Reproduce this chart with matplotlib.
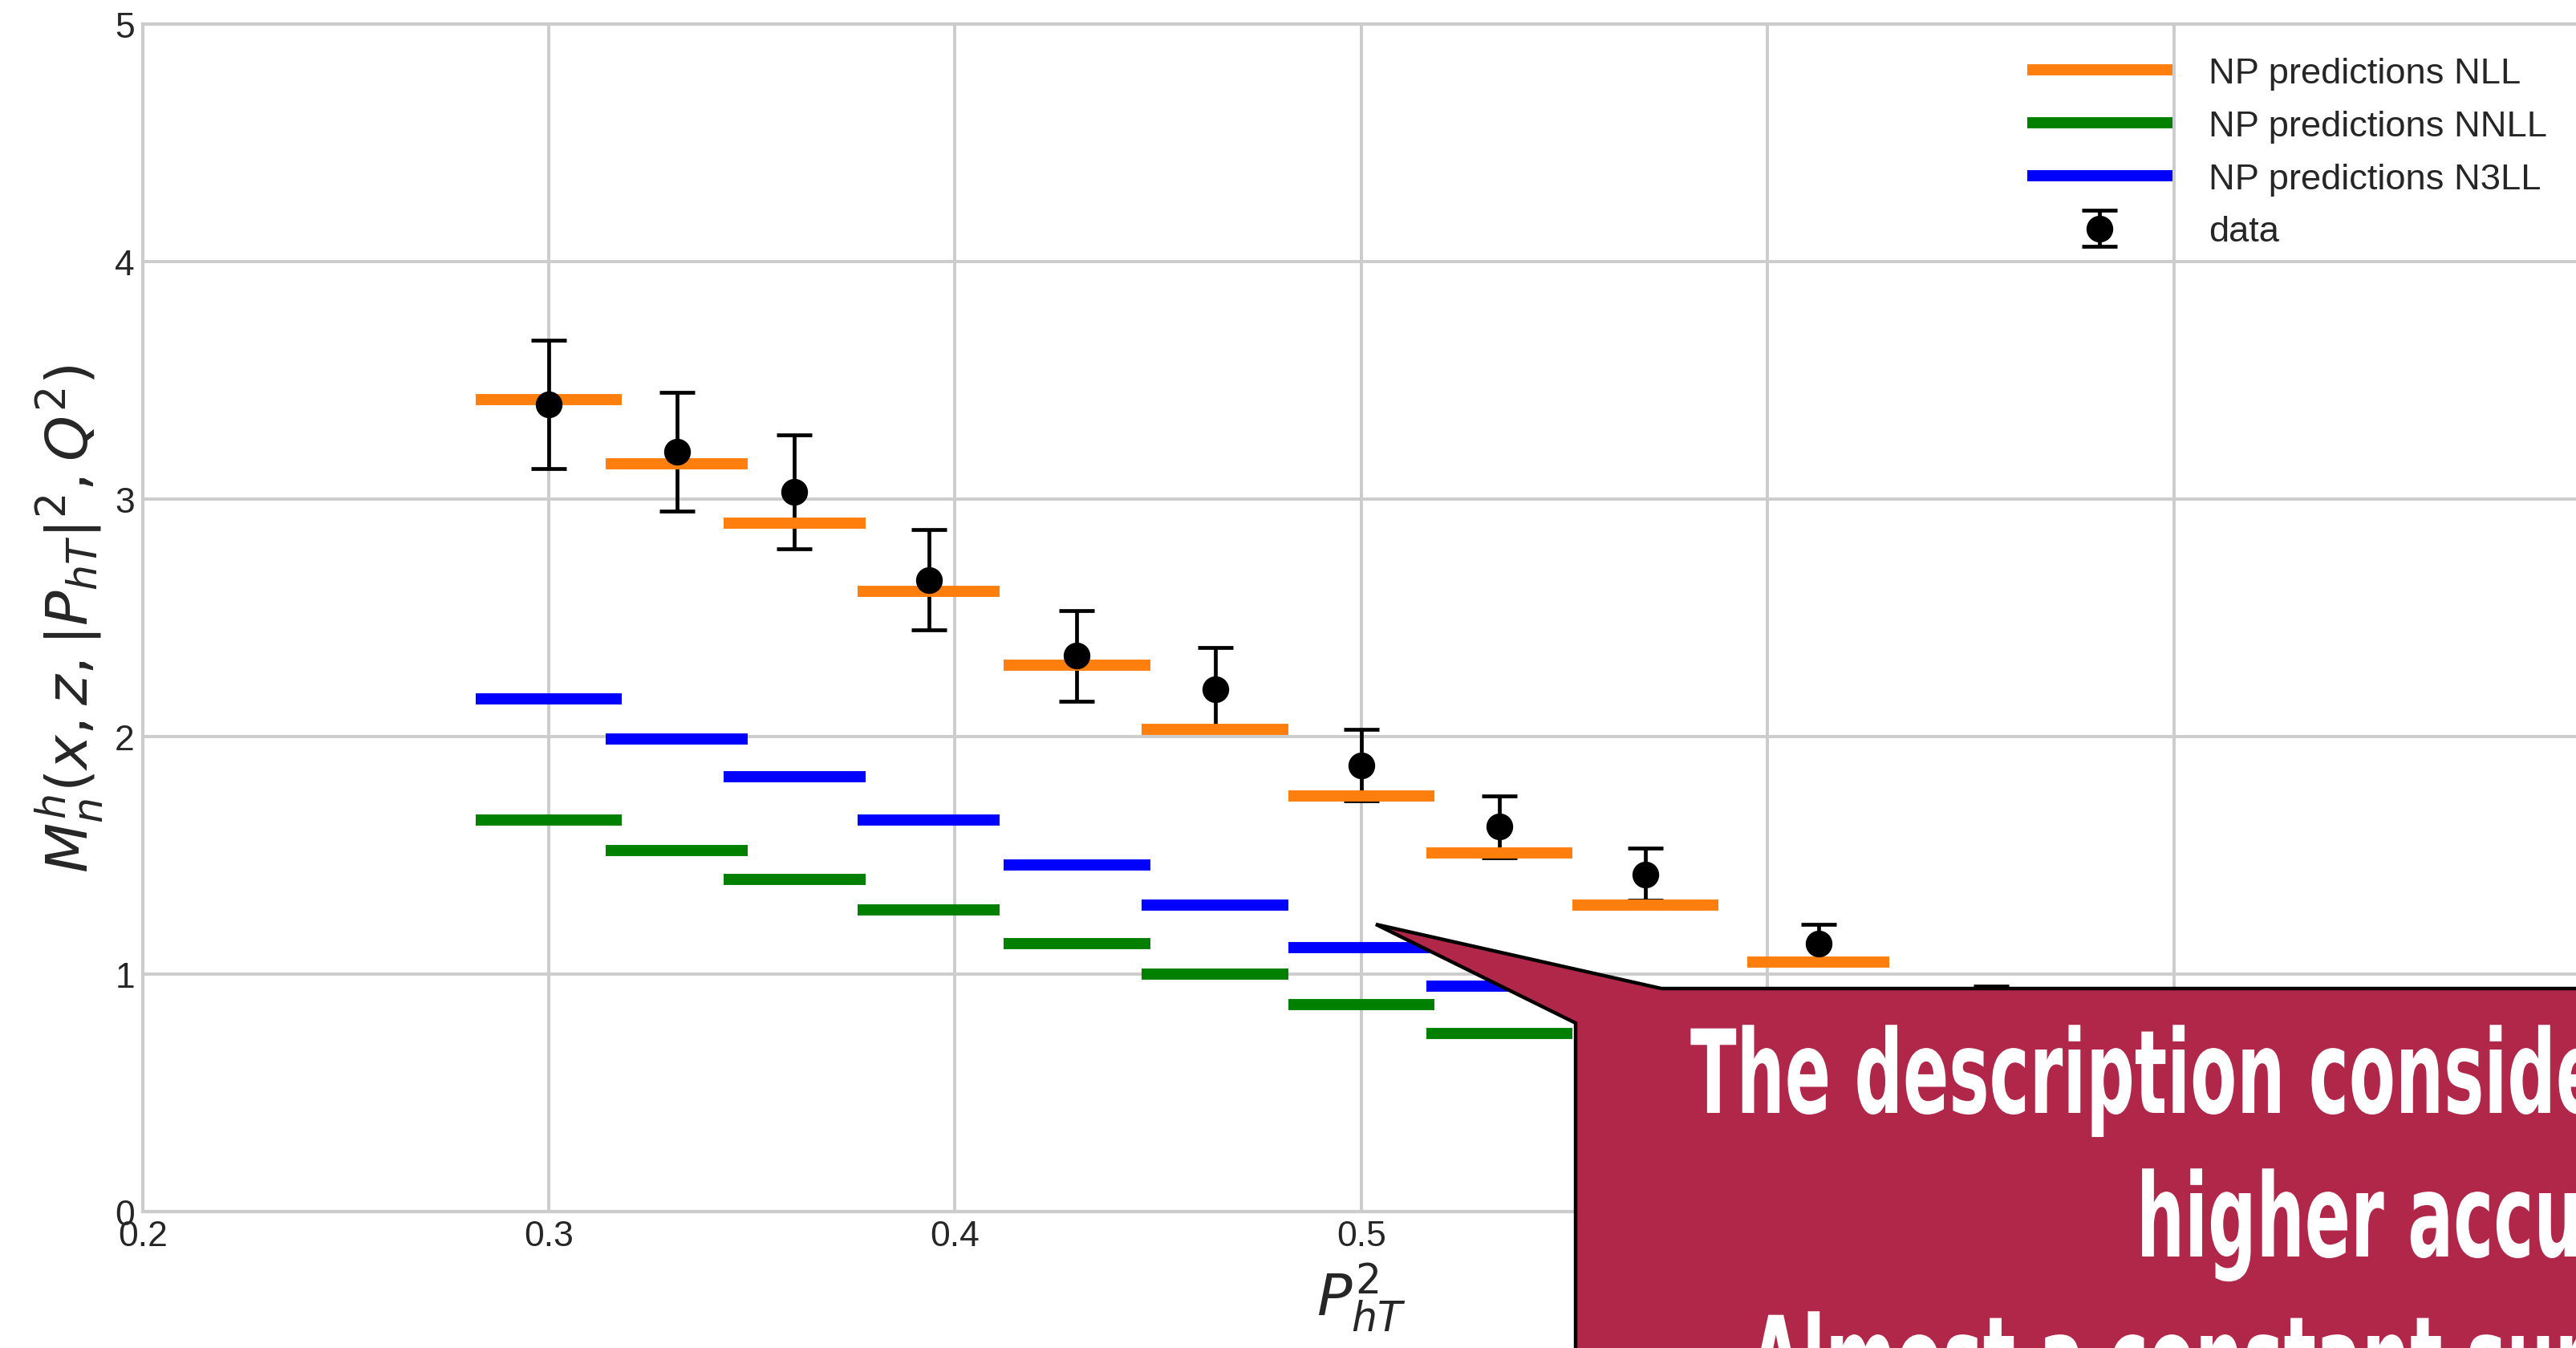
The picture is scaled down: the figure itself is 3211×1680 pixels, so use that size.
import matplotlib
matplotlib.use("Agg")
import matplotlib.pyplot as plt
from matplotlib.patches import Polygon
from matplotlib.patheffects import AbstractPathEffect
from matplotlib.transforms import Affine2D

# bins in P_hT^2 (left / right edges of each prediction segment)
bin_lo = [0.282, 0.314, 0.343, 0.376, 0.412, 0.446, 0.482, 0.516, 0.552, 0.595]
bin_hi = [0.318, 0.349, 0.378, 0.411, 0.448, 0.482, 0.518, 0.552, 0.588, 0.630]

nll = [3.42, 3.15, 2.90, 2.61, 2.30, 2.03, 1.75, 1.51, 1.29, 1.05]
n3ll = [2.16, 1.99, 1.83, 1.65, 1.46, 1.29, 1.11, 0.95]
nnll = [1.65, 1.52, 1.40, 1.27, 1.13, 1.00, 0.87, 0.75]

data_x = [0.300, 0.3315, 0.3605, 0.3935, 0.430, 0.464, 0.500, 0.534, 0.570, 0.6125, 0.655]
data_y = [3.40, 3.20, 3.03, 2.66, 2.34, 2.20, 1.88, 1.62, 1.42, 1.13, 0.88]
data_err = [0.27, 0.25, 0.24, 0.21, 0.19, 0.175, 0.15, 0.13, 0.11, 0.08, 0.07]

x_ticks = [0.2, 0.3, 0.4, 0.5, 0.6, 0.7, 0.8]
y_ticks = [0, 1, 2, 3, 4, 5]

callout_lines = ["The description considering",
                 "higher accuracy orders",
                 "Almost a constant surplus"]

W, H = 3211, 1681


class Squeeze(AbstractPathEffect):
    # squeeze text horizontally around its left anchor (condensed look)
    def __init__(self, sx):
        super().__init__()
        self.sx = sx

    def draw_path(self, renderer, gc, tpath, affine, rgbFace=None):
        x0 = affine.get_matrix()[0, 2]
        sq = Affine2D().translate(-x0, 0).scale(self.sx, 1).translate(x0, 0)
        renderer.draw_path(gc, tpath, affine + sq, rgbFace)


def fx(px):
    return px / W


def fy(py):
    return 1 - py / H


plt.rcParams.update({
    "font.family": ["Liberation Sans", "DejaVu Sans"],
    "font.size": 16,
    "axes.edgecolor": "0.8",
    "axes.linewidth": 1.5,
    "grid.color": "0.8",
    "grid.linewidth": 1.4,
    "xtick.major.size": 0,
    "ytick.major.size": 0,
    "xtick.color": "0.15",
    "ytick.color": "0.15",
    "axes.labelcolor": "0.15",
    "text.color": "0.15",
})

fig = plt.figure(figsize=(W / 200, H / 200), dpi=200)
ax = fig.add_axes([fx(177.7), 170 / H, (3216 - 177.7) / W, 1480 / H])
ax.grid(True)
ax.set_axisbelow(True)

h_data = ax.errorbar(data_x, data_y, yerr=data_err, fmt="o", color="black",
                     markersize=11, elinewidth=1.7, capsize=8, capthick=1.7,
                     label="data", zorder=2)
h_data.lines[0].set_zorder(4)  # markers above the prediction bars

n = len(n3ll)
h_nll = ax.hlines(nll, bin_lo, bin_hi, colors="#ff7f0e", linewidth=5,
                  label="NP predictions NLL", zorder=3)
h_nnll = ax.hlines(nnll, bin_lo[:n], bin_hi[:n], colors="green", linewidth=5,
                   label="NP predictions NNLL", zorder=3)
h_n3ll = ax.hlines(n3ll, bin_lo[:n], bin_hi[:n], colors="blue", linewidth=5,
                   label="NP predictions N3LL", zorder=3)

ax.set_xlim(0.2, 0.8)
ax.set_ylim(0, 5)
ax.set_xticks(x_ticks)
ax.set_yticks(y_ticks)
ax.set_xlabel(r"$P_{hT}^2$", fontsize=26)
ax.set_ylabel(r"$M_n^h(x, z, |P_{hT}|^2, Q^2)$", fontsize=26)

ax.legend([h_nll, h_nnll, h_n3ll, h_data],
          ["NP predictions NLL", "NP predictions NNLL", "NP predictions N3LL", "data"],
          loc="upper right", frameon=False, handlelength=4.0, handletextpad=1.0,
          labelspacing=0.55, fontsize=16.3)

# callout box laid over the plot
pts = [(1715, 1153), (2071, 1233), (3260, 1233), (3260, 1760),
       (1964, 1760), (1964, 1276)]
box = Polygon([(fx(x), fy(y)) for x, y in pts], closed=True,
              transform=fig.transFigure, facecolor="#B1274A",
              edgecolor="black", linewidth=1.6, zorder=10)
fig.add_artist(box)

starts = [(2107, 1388), (2663, 1567), (2181, 1745)]
for line, (x, y) in zip(callout_lines, starts):
    fig.text(fx(x), fy(y), line, color="white", fontsize=52,
             family="DejaVu Sans", fontweight="bold", ha="left", va="baseline",
             zorder=11, path_effects=[Squeeze(0.585)])

fig.savefig("out.png", dpi=200)
